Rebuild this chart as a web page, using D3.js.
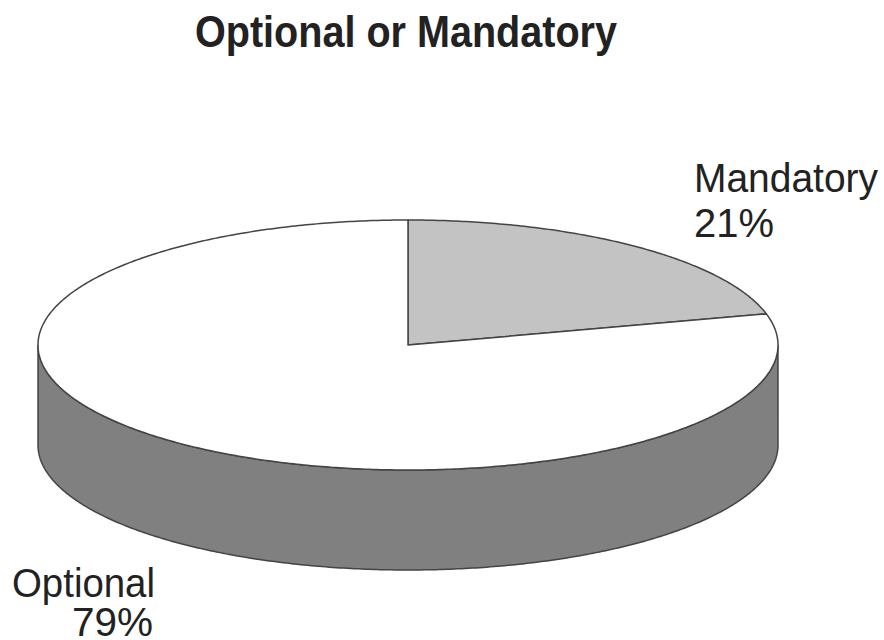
<!DOCTYPE html>
<html><head><meta charset="utf-8">
<script src="https://cdn.jsdelivr.net/npm/d3@7"></script>
<style>body{margin:0;background:#fff}</style>
</head><body>
<svg id="c" width="884" height="640"></svg>
<script>
const categories = ["Mandatory", "Optional"];
const values = [21, 79];
const percentLabels = ["21%", "79%"];
const topColors = ["#c3c3c3", "#ffffff"];
const sideColor = "#808080";

const svg = d3.select("#c");
const cx = 408, cy = 345, rx = 370, ry = 125, depth = 100;
const ff = "'Liberation Sans', Arial, sans-serif";

svg.append("text").attr("x", 195).attr("y", 47)
  .attr("font-family", ff).attr("font-weight", "bold").attr("font-size", 44).attr("fill", "#222")
  .attr("textLength", 422).attr("lengthAdjust", "spacingAndGlyphs")
  .text("Optional or Mandatory");

const pie = d3.pie().sort(null).value(d => d)(values);
const px = a => cx + rx * Math.sin(a);
const py = a => cy - ry * Math.cos(a);

function arcPts(a0, a1, dy) {
  const n = Math.max(2, Math.ceil((a1 - a0) / 0.01));
  const pts = [];
  for (let i = 0; i <= n; i++) { const a = a0 + (a1 - a0) * i / n; pts.push([px(a), py(a) + dy]); }
  return pts;
}

const g = svg.append("g");
pie.forEach((s, i) => {
  const a0 = Math.max(s.startAngle, Math.PI / 2), a1 = Math.min(s.endAngle, 3 * Math.PI / 2);
  if (a1 <= a0) return;
  const top = arcPts(a0, a1, 0), bot = arcPts(a0, a1, depth).reverse();
  g.append("path").attr("d", d3.line()(top.concat(bot)) + "Z")
    .attr("fill", sideColor).attr("stroke", "#444").attr("stroke-width", 1.5);
});
pie.forEach((s, i) => {
  const pts = [[cx, cy]].concat(arcPts(s.startAngle, s.endAngle, 0));
  g.append("path").attr("d", d3.line()(pts) + "Z")
    .attr("fill", topColors[i]).attr("stroke", "#444").attr("stroke-width", 1.5)
    .attr("stroke-linejoin", "round");
});

const lab = svg.append("g").attr("font-family", ff).attr("font-size", 41).attr("fill", "#222");
function label(txt, x, y, w) {
  lab.append("text").attr("x", x).attr("y", y).attr("textLength", w)
    .attr("lengthAdjust", "spacingAndGlyphs").text(txt);
}
label(categories[0], 694, 192, 184);
label(percentLabels[0], 694, 237, 80);
label(categories[1], 12, 597, 143);
label(percentLabels[1], 72, 636, 81);
</script>
</body></html>
